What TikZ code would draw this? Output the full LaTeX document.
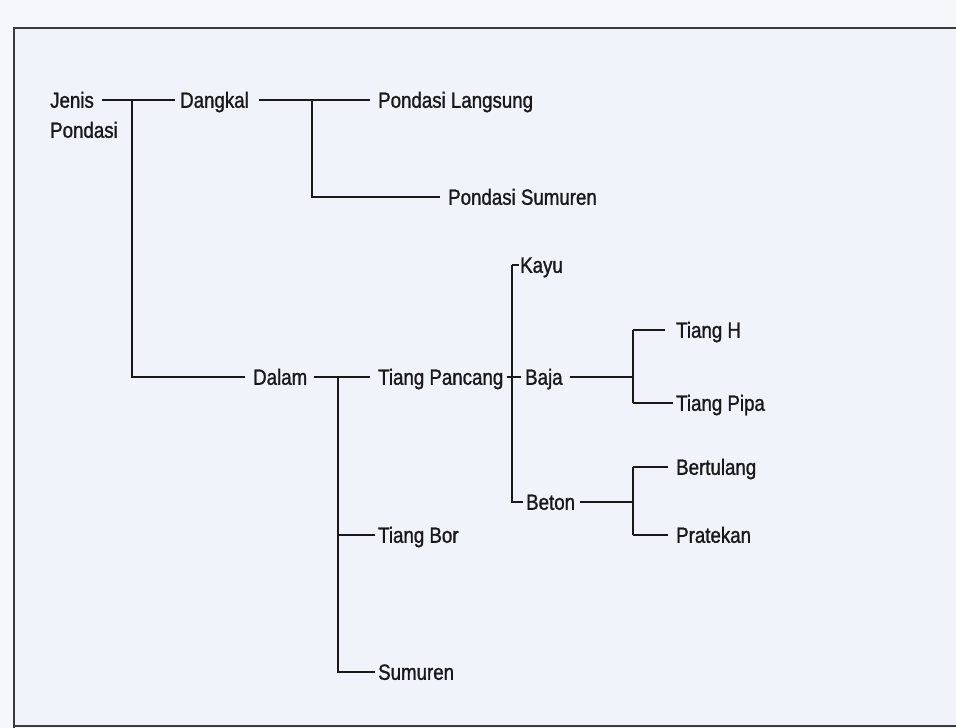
\documentclass[tikz,border=0pt]{standalone}
\usepackage{fontspec}
\setmainfont{Liberation Sans}[FakeStretch=0.85,FakeBold=1.2]
\definecolor{paper}{RGB}{240,243,250}
\definecolor{outer}{RGB}{246,247,250}
\definecolor{ink}{RGB}{24,24,26}
\begin{document}
\begin{tikzpicture}[x=1pt,y=-1pt,
  lbl/.style={anchor=west,inner sep=0pt,text height=15.5pt,text depth=0pt,text=ink,font=\fontsize{22}{24}\selectfont},
  conn/.style={draw=ink,line width=1.7pt},
  frame/.style={draw=ink!85,line width=2pt}]
\useasboundingbox (0,0) rectangle (956,728);
\fill[outer] (0,0) rectangle (956,728);
\fill[paper] (14,28) rectangle (956,728);
\draw[frame] (956,28) -- (14,28) -- (14,728);
\draw[frame] (14,726) -- (956,726);
% labels
\node[lbl] (jenis) at (50,100) {Jenis};
\node[lbl] (jenis2) at (50,130) {Pondasi};
\node[lbl] (dangkal) at (180,100) {Dangkal};
\node[lbl] (langsung) at (378,100) {Pondasi Langsung};
\node[lbl] (psumuren) at (448,197) {Pondasi Sumuren};
\node[lbl] (dalam) at (253,377) {Dalam};
\node[lbl] (pancang) at (378,377) {Tiang Pancang};
\node[lbl] (bor) at (378,535) {Tiang Bor};
\node[lbl] (sumuren) at (378,672) {Sumuren};
\node[lbl] (kayu) at (520,265) {Kayu};
\node[lbl] (baja) at (525,377) {Baja};
\node[lbl] (beton) at (526,502) {Beton};
\node[lbl] (th) at (676,330) {Tiang H};
\node[lbl] (tp) at (676,403) {Tiang Pipa};
\node[lbl] (bert) at (676,467) {Bertulang};
\node[lbl] (prat) at (676,535) {Pratekan};
% branch points
\coordinate (b1) at (132,100);
\coordinate (b2) at (312,100);
\coordinate (b3) at (338,377);
\coordinate (b4) at (512,377);
\coordinate (b5) at (633,377);
\coordinate (b6) at (633,502);
% connectors
\draw[conn] ([xshift=8pt]jenis.east) -- ([xshift=-5pt]dangkal.west);
\draw[conn] (b1) |- ([xshift=-8pt]dalam.west);
\draw[conn] ([xshift=10pt]dangkal.east) -- ([xshift=-8pt]langsung.west);
\draw[conn] (b2) |- ([xshift=-8pt]psumuren.west);
\draw[conn] ([xshift=7pt]dalam.east) -- ([xshift=-8pt]pancang.west);
\draw[conn] (b3) |- ([xshift=-3pt]sumuren.west);
\draw[conn] (b3 |- bor.west) -- ([xshift=-3pt]bor.west);
\draw[conn] (b4 |- kayu.west) -- ([xshift=-1pt]kayu.west);
\draw[conn] (b4 |- kayu.west) |- ([xshift=-3pt]beton.west);
\draw[conn] ([xshift=3pt]pancang.east) -- ([xshift=-4pt]baja.west);
\draw[conn] ([xshift=7pt]baja.east) -- (b5);
\draw[conn] (b5 |- th.west) -- (b5 |- tp.west);
\draw[conn] (b5 |- th.west) -- ([xshift=-11pt]th.west);
\draw[conn] (b5 |- tp.west) -- ([xshift=-3pt]tp.west);
\draw[conn] ([xshift=5pt]beton.east) -- (b6);
\draw[conn] (b6 |- bert.west) -- (b6 |- prat.west);
\draw[conn] (b6 |- bert.west) -- ([xshift=-8pt]bert.west);
\draw[conn] (b6 |- prat.west) -- ([xshift=-8pt]prat.west);
\end{tikzpicture}
\end{document}
